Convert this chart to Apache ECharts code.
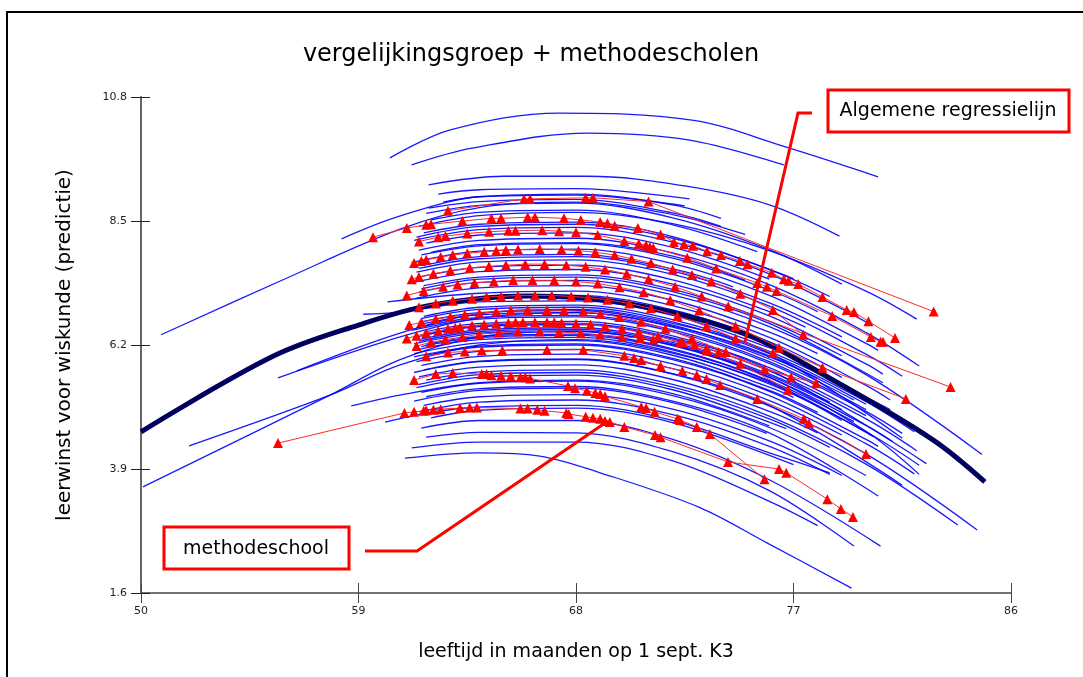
<!DOCTYPE html>
<html>
<head>
<meta charset="utf-8">
<script src="https://cdn.jsdelivr.net/npm/echarts@6/dist/echarts.min.js"></script>
<style>
html,body{margin:0;padding:0;background:#fff;}
#chart{width:1083px;height:677px;}
</style>
</head>
<body>
<div id="chart"></div>
<script>
// ---- axis ticks ----
const xTicks = [50, 59, 68, 77, 86];
const yTicks = [1.6, 3.9, 6.2, 8.5, 10.8];

// ---- blue curves: predicted curves per school (comparison group) ----
const upperCurves = [
  [[60.3,9.67],[62.8,10.19],[67.3,10.50],[72.8,10.37],[76.7,9.87],[80.5,9.32]],
  [[61.2,9.54],[63.7,9.85],[68.5,10.13],[72.7,10.0],[76.6,9.54]],
  [[61.9,9.17],[65,9.33],[68.5,9.33],[72.5,9.15],[76,8.8],[78.9,8.22]],
  [[62.3,9.0],[64,9.08],[68,9.1],[72.7,8.91]],
  [[62.5,8.85],[64,8.95],[68,8.98],[72.5,8.78]]
];
const leftCurves = [
  [[50.83,6.39],[55.88,7.41],[60.72,8.35],[64,8.75],[68,8.85],[72,8.62],[75,8.25]],
  [[58.3,8.17],[60.7,8.59],[64,8.95],[68,9.0],[72,8.8],[74,8.55]],
  [[51.99,4.33],[57.82,5.27],[60.72,5.83],[64,6.2],[68,6.3],[72,6.05],[76,5.5],[79,4.8]],
  [[50.08,3.57],[57.82,5.27],[60.72,5.93],[64,6.35],[68,6.45],[72,6.2],[76,5.6],[80,4.6],[82.2,3.8]],
  [[55.67,5.59],[60.72,6.35],[64,6.7],[68,6.8],[72,6.55],[76,6.0],[80,5.1]],
  [[56.45,5.72],[60.72,6.42],[64,6.78],[68,6.86],[72,6.6],[76,6.05],[81.5,4.47]],
  [[58.7,5.07],[60.72,5.27],[64,5.5],[68,5.55],[72,5.3],[76,4.7]],
  [[60.1,4.77],[62,4.95],[64,5.05],[68,5.08],[72,4.8],[76,4.2],[78.5,3.83]]
];
const bundleCurves = [
  [[61.9,8.74],[64,8.86],[68,8.9],[72,8.65],[74,8.4]],
  [[61.8,8.64],[64,8.79],[68,8.83],[72,8.56],[76,7.97],[79,7.33]],
  [[62,8.52],[64,8.66],[68,8.70],[72,8.43],[75.5,7.93]],
  [[61.5,8.40],[64,8.60],[68,8.66],[72,8.45],[76,7.95],[80,7.2],[82.1,6.68]],
  [[61.7,8.28],[64,8.44],[68,8.48],[72,8.21],[77,7.43]],
  [[61.4,8.20],[64,8.40],[68,8.44],[72,8.18],[76,7.6],[78.5,7.1]],
  [[61.3,8.14],[64,8.34],[68,8.38],[72,8.11],[76,7.52],[80,6.63]],
  [[61.8,8.09],[64,8.24],[68,8.28],[72,8.01],[76,7.42]],
  [[61.5,7.96],[64,8.14],[68,8.18],[72,7.91],[76,7.32],[80,6.43],[82.2,5.81]],
  [[62,7.92],[64,8.06],[68,8.10],[72,7.85],[75,7.4]],
  [[61.6,7.87],[64,8.04],[68,8.08],[72,7.81],[76,7.22],[78,6.82]],
  [[61.2,7.73],[64,7.94],[68,7.98],[72,7.71],[76,7.12],[80,6.23],[80.5,6.10]],
  [[61.8,7.69],[64,7.84],[68,7.88],[72,7.61],[74.5,7.28]],
  [[61.5,7.62],[64,7.80],[68,7.84],[72,7.57],[76,6.98],[79,6.35]],
  [[61.4,7.55],[64,7.74],[68,7.78],[72,7.51],[76,6.92],[80,6.03],[81.5,5.62]],
  [[61.6,7.47],[64,7.64],[68,7.68],[72,7.41],[76,6.82],[77.5,6.53]],
  [[61.3,7.36],[64,7.56],[68,7.60],[72,7.33],[76,6.74],[80,5.85],[80.7,5.66]],
  [[61.7,7.30],[64,7.46],[68,7.50],[72,7.23],[76,6.64],[79,6.00]],
  [[61.6,7.24],[64,7.42],[68,7.46],[72,7.19],[76,6.6],[80.7,5.5]],
  [[61.5,7.18],[64,7.36],[68,7.40],[72,7.13],[76,6.54],[80,5.65],[84.8,4.17]],
  [[61.4,7.07],[64,7.26],[68,7.30],[72,7.03],[76,6.44],[78,6.04]],
  [[60.2,7.0],[64,7.16],[68,7.20],[72,6.93],[76,6.34],[80,5.45],[81,5.18]],
  [[61.3,6.88],[64,7.08],[68,7.12],[72,6.85],[76,6.26],[79,5.6]],
  [[59.2,6.77],[60.7,6.81],[64,7.0],[68,7.02],[72,6.75],[76,6.15],[77,5.95]],
  [[61.7,6.73],[64,6.90],[68,6.94],[72,6.67],[76,6.08],[81,5.0]],
  [[61.6,6.69],[64,6.86],[68,6.90],[72,6.63],[76,6.04],[80,5.15],[82,4.59]],
  [[61.5,6.62],[64,6.80],[68,6.84],[72,6.57],[76,5.98],[78,5.58]],
  [[61.5,6.58],[64,6.76],[68,6.80],[72,6.53],[76,5.94],[79.5,5.18]],
  [[61.4,6.52],[64,6.71],[68,6.75],[72,6.48],[76,5.89],[80,5.0]],
  [[61.2,6.47],[64,6.68],[68,6.72],[72,6.45],[76,5.86],[80,4.97],[81.5,4.56]],
  [[61.7,6.44],[64,6.60],[68,6.64],[72,6.37],[76,5.78],[80,4.89]],
  [[61.8,6.40],[64,6.56],[68,6.60],[72,6.33],[76,5.74],[82.5,4.0]],
  [[61.4,6.35],[64,6.54],[68,6.58],[72,6.31],[76,5.72],[80,4.83],[82.1,4.24]],
  [[61.6,6.31],[64,6.48],[68,6.52],[72,6.25],[76,5.66],[78.5,5.14]],
  [[61.5,6.27],[64,6.45],[68,6.49],[72,6.22],[76,5.63],[79,5.0]],
  [[61.3,6.22],[64,6.42],[68,6.46],[72,6.19],[76,5.60],[80,4.71],[81.1,4.41]],
  [[61.8,6.21],[64,6.36],[68,6.40],[72,6.13],[76,5.54],[79.5,4.78]],
  [[61.6,6.17],[64,6.34],[68,6.38],[72,6.11],[76,5.52],[80.3,4.5]],
  [[61.5,6.12],[64,6.30],[68,6.34],[72,6.07],[76,5.48],[80,4.59],[82.2,3.97]],
  [[61.3,6.04],[64,6.24],[68,6.28],[72,6.01],[76,5.42],[77,5.23]],
  [[61.7,6.00],[64,6.16],[68,6.20],[72,5.93],[76,5.34],[80,4.45],[80.5,4.32]],
  [[61.3,5.98],[64,6.18],[68,6.22],[72,5.95],[76,5.36],[78,4.95]],
  [[61.4,5.89],[64,6.08],[68,6.12],[72,5.85],[76,5.26],[80,4.37],[82,3.81]],
  [[61.6,5.82],[64,5.99],[68,6.03],[72,5.76],[76,5.17],[79,4.53]],
  [[61.7,5.74],[64,5.90],[68,5.94],[72,5.67],[76,5.08],[81.5,3.6]],
  [[61.3,5.69],[64,5.89],[68,5.93],[72,5.66],[76,5.07],[80,4.18],[84.6,2.77]],
  [[61.5,5.61],[64,5.79],[68,5.83],[72,5.56],[76,4.97],[78,4.57]],
  [[61.8,5.55],[64,5.70],[68,5.74],[72,5.47],[76,4.88],[80,3.99],[83.8,2.86]],
  [[61.5,5.47],[64,5.65],[68,5.69],[72,5.42],[76,4.83],[78.5,4.3]],
  [[61.4,5.41],[64,5.60],[68,5.64],[72,5.37],[76.7,4.65]],
  [[61.6,5.32],[64,5.49],[68,5.53],[72,5.26],[76,4.67],[80,3.78]],
  [[61.8,5.24],[64,5.39],[68,5.43],[72,5.16],[76,4.57],[80.5,3.4]],
  [[61.3,5.16],[64,5.36],[68,5.40],[72,5.13],[75.9,4.56]],
  [[61.7,5.08],[64,5.24],[68,5.28],[72,5.01],[76,4.42],[79,3.78]],
  [[61.5,4.96],[64,5.14],[68,5.18],[72,4.91],[76,4.32],[78.5,3.80]],
  [[62,4.85],[64,4.99],[68,5.03],[72,4.76],[77,3.98]]
];
const lowerCurves = [
  [[61.6,4.66],[64,4.80],[68,4.80],[72,4.45],[76,3.70],[80.6,2.47]],
  [[61.8,4.49],[64,4.58],[68,4.57],[72,4.22],[76,3.50],[79.5,2.47]],
  [[61.2,4.29],[64,4.40],[68,4.40],[72,4.05],[76,3.30],[78,2.85]],
  [[60.92,4.10],[64.0,4.20],[66.5,4.14],[69.0,3.83],[73.1,3.19],[75.9,2.53],[79.4,1.69]]
];

// ---- general regression line ----
const regression = [[50,4.59],[55.46,5.99],[59,6.57],[62,6.94],[66,7.11],[70,6.98],[74.9,6.42],[78.63,5.55],[82.77,4.44],[84.92,3.66]];

// ---- red: method schools (observed triangles) ----
const methodSchools = [
  [[62.7,8.69],[65.85,8.91],[66.1,8.91],[68.4,8.93],[68.7,8.93],[71.0,8.86],[82.8,6.82]],
  [[59.6,8.20],[61.0,8.37],[61.8,8.43],[62.0,8.44],[63.3,8.50],[64.5,8.55],[64.9,8.55],[66.0,8.57],[66.3,8.57],[67.5,8.55],[68.2,8.52],[69.0,8.48],[69.3,8.46],[69.6,8.41],[70.56,8.37],[71.5,8.25],[72.05,8.11],[72.47,8.07],[72.84,8.04],[73.42,7.94],[74.0,7.87],[74.78,7.76],[75.1,7.70],[76.1,7.54],[76.6,7.42],[76.8,7.39],[77.2,7.33],[78.2,7.09],[79.2,6.85],[79.5,6.81],[80.1,6.64],[81.2,6.33]],
  [[61.5,8.12],[62.3,8.2],[62.6,8.22],[63.5,8.27],[64.4,8.3],[65.2,8.32],[65.5,8.32],[66.6,8.33],[67.3,8.31],[68.0,8.29],[68.9,8.24],[70.0,8.13],[70.6,8.08],[70.9,8.05],[71.06,8.02],[71.2,8.0],[72.6,7.82],[73.8,7.62],[75.5,7.35],[75.9,7.28],[76.3,7.20],[78.6,6.74],[80.2,6.35],[80.6,6.26],[80.7,6.26]],
  [[61.3,7.72],[61.6,7.76],[61.8,7.78],[62.4,7.83],[62.9,7.87],[63.5,7.9],[64.2,7.93],[64.7,7.95],[65.1,7.96],[65.6,7.97],[66.5,7.98],[67.4,7.97],[68.1,7.95],[68.8,7.92],[69.6,7.87],[70.3,7.8],[71.1,7.72],[72.0,7.6],[72.8,7.5],[73.6,7.38],[74.8,7.15],[76.15,6.85],[77.4,6.39]],
  [[61.2,7.42],[61.5,7.46],[62.1,7.52],[62.8,7.58],[63.6,7.63],[64.4,7.66],[65.1,7.68],[65.9,7.7],[66.7,7.7],[67.6,7.68],[68.4,7.65],[69.2,7.6],[70.1,7.52],[71.0,7.42],[72.1,7.28],[73.2,7.1],[74.3,6.92],[83.5,5.42]],
  [[61.0,7.12],[61.7,7.2],[62.5,7.28],[63.1,7.32],[63.8,7.35],[64.6,7.38],[65.4,7.4],[66.2,7.4],[67.1,7.4],[68.0,7.38],[68.9,7.34],[69.8,7.27],[70.8,7.18],[71.9,7.03],[73.1,6.84],[74.6,6.55],[76.4,6.15],[78.2,5.78],[81.65,5.2]],
  [[61.5,6.9],[62.2,6.97],[62.9,7.02],[63.7,7.06],[64.3,7.09],[64.9,7.1],[65.6,7.12],[66.3,7.12],[67.0,7.12],[67.8,7.1],[68.5,7.08],[69.3,7.04],[70.2,6.97],[71.1,6.88],[72.2,6.74],[73.4,6.55],[74.6,6.32],[76.15,6.05]],
  [[61.1,6.57],[61.6,6.62],[62.2,6.68],[62.8,6.72],[63.4,6.76],[64.0,6.79],[64.7,6.82],[65.3,6.84],[66.0,6.85],[66.8,6.85],[67.5,6.84],[68.3,6.82],[69.0,6.78],[69.8,6.72],[70.7,6.63],[71.7,6.5],[72.8,6.32],[74.2,6.07],[75.8,5.75],[77.93,5.49]],
  [[61.0,6.32],[61.4,6.37],[61.8,6.42],[62.3,6.46],[62.7,6.5],[63.0,6.52],[63.2,6.53],[63.7,6.56],[64.2,6.58],[64.7,6.6],[65.2,6.61],[65.5,6.62],[65.8,6.62],[66.3,6.62],[66.8,6.62],[67.1,6.62],[67.4,6.61],[68.0,6.6],[68.6,6.58],[69.2,6.55],[69.9,6.5],[70.6,6.44],[71.4,6.36],[72.3,6.25],[73.4,6.1],[74.8,5.85],[76.77,5.37]],
  [[61.4,6.18],[62.0,6.25],[62.6,6.3],[63.3,6.35],[64.0,6.4],[64.8,6.43],[65.6,6.45],[66.5,6.45],[67.3,6.44],[68.2,6.42],[69.0,6.39],[69.9,6.35],[70.65,6.33],[71.2,6.3],[72.4,6.25],[72.9,6.2],[73.4,6.14],[73.9,6.07],[76.9,5.6]],
  [[61.8,5.99],[62.7,6.06],[63.4,6.08],[64.1,6.1],[64.95,6.1],[66.8,6.11],[68.3,6.11],[70.0,6.0],[70.4,5.96],[70.7,5.92],[71.5,5.81],[72.4,5.72],[73.0,5.64],[73.4,5.57],[73.96,5.46],[75.5,5.2],[77.43,4.83],[77.64,4.75],[80.0,4.18]],
  [[61.3,5.55],[62.2,5.66],[62.9,5.68],[64.1,5.66],[64.3,5.66],[64.5,5.64],[64.9,5.63],[65.3,5.62],[65.7,5.6],[65.9,5.6],[66.1,5.58],[67.67,5.44],[67.96,5.40],[68.45,5.35],[68.8,5.31],[69.0,5.29],[69.2,5.25],[70.7,5.05],[70.9,5.03],[71.25,4.96],[72.2,4.83],[72.3,4.81],[73.0,4.68],[73.54,4.55],[75.8,3.71]],
  [[55.67,4.38],[60.9,4.94],[61.3,4.96],[61.7,4.98],[61.8,4.99],[62.1,5.0],[62.4,5.01],[63.2,5.03],[63.6,5.04],[63.9,5.04],[65.7,5.02],[66.0,5.02],[66.4,5.0],[66.7,4.98],[67.6,4.94],[67.7,4.92],[68.4,4.87],[68.7,4.85],[69.0,4.83],[69.2,4.79],[69.4,4.77],[70.0,4.68],[71.27,4.53],[71.5,4.49],[74.29,4.03],[76.4,3.90],[76.7,3.83],[78.4,3.34],[78.96,3.16],[79.46,3.01]]
];

const titleText = 'vergelijkingsgroep + methodescholen';
const xName = 'leeftijd in maanden op 1 sept. K3';
const yName = 'leerwinst voor wiskunde (predictie)';
const noteRegression = 'Algemene regressielijn';
const noteSchool = 'methodeschool';

const FONT = 'DejaVu Sans';
const chart = echarts.init(document.getElementById('chart'), null, {renderer: 'canvas'});

const series = [];
[...upperCurves, ...leftCurves, ...bundleCurves, ...lowerCurves].forEach(c => {
  series.push({type: 'line', data: c, smooth: 0.35, showSymbol: false, silent: true, z: 2,
    lineStyle: {color: '#0000ff', width: 1.3, opacity: 0.9}});
});
series.push({type: 'line', data: regression, smooth: 0.35, showSymbol: false, silent: true, z: 3,
  lineStyle: {color: '#00005e', width: 5}});
methodSchools.forEach(s => {
  series.push({type: 'line', data: s, smooth: false, symbol: 'triangle', symbolSize: 10, showSymbol: true, silent: true, z: 4,
    itemStyle: {color: '#ff0000'}, lineStyle: {color: '#ff2a2a', width: 1}});
});

const option = {
  animation: false,
  backgroundColor: '#fff',
  title: {text: titleText, left: 526, top: 38, textAlign: 'center',
    textStyle: {fontFamily: FONT, fontSize: 24, fontWeight: 'normal', color: '#000'}},
  grid: {left: 141, right: 72, top: 97, bottom: 84},
  xAxis: [
    {type: 'value', min: 50, max: 86, interval: 9, position: 'bottom',
      name: xName, nameLocation: 'middle', nameGap: 50,
      nameTextStyle: {fontFamily: FONT, fontSize: 19, color: '#000'},
      axisLine: {lineStyle: {color: '#444', width: 1.5}},
      axisTick: {show: true, length: 10, lineStyle: {color: '#444'}},
      axisLabel: {fontFamily: FONT, fontSize: 11, color: '#222', margin: 13},
      splitLine: {show: false}},
    {type: 'value', min: 50, max: 86, interval: 9, position: 'bottom',
      axisLine: {show: false}, axisTick: {show: true, inside: true, length: 10, lineStyle: {color: '#444'}},
      axisLabel: {show: false}, splitLine: {show: false}}
  ],
  yAxis: [
    {type: 'value', min: 1.6, max: 10.8, interval: 2.3, position: 'left',
      name: yName, nameLocation: 'middle', nameGap: 66, nameRotate: 90,
      nameTextStyle: {fontFamily: FONT, fontSize: 20, color: '#000'},
      axisLine: {lineStyle: {color: '#666', width: 2}},
      axisTick: {show: true, length: 10, lineStyle: {color: '#222'}},
      axisLabel: {fontFamily: FONT, fontSize: 11, color: '#222', margin: 14, formatter: v => v.toFixed(1)},
      splitLine: {show: false}},
    {type: 'value', min: 1.6, max: 10.8, interval: 2.3, position: 'left',
      axisLine: {show: false}, axisTick: {show: true, inside: true, length: 9, lineStyle: {color: '#222'}},
      axisLabel: {show: false}, splitLine: {show: false}}
  ],
  series: series,
  graphic: [
    {type: 'rect', shape: {x: 7, y: 12, width: 1100, height: 700}, style: {fill: null, stroke: '#000', lineWidth: 2}, silent: true, z: 0},
    {type: 'polyline', shape: {points: [[812,113],[798,113],[745,342]]}, style: {stroke: '#ff0000', lineWidth: 3, fill: null}, z: 100},
    {type: 'polyline', shape: {points: [[365,551],[417,551],[608,421]]}, style: {stroke: '#ff0000', lineWidth: 3, fill: null}, z: 100},
    {type: 'rect', shape: {x: 828, y: 90, width: 241, height: 42}, style: {fill: '#fff', stroke: '#ff0000', lineWidth: 3}, z: 100},
    {type: 'text', x: 948, y: 111, style: {text: noteRegression, font: '19px "DejaVu Sans"', fill: '#000', align: 'center', verticalAlign: 'middle'}, z: 101},
    {type: 'rect', shape: {x: 164, y: 527, width: 185, height: 42}, style: {fill: '#fff', stroke: '#ff0000', lineWidth: 3}, z: 100},
    {type: 'text', x: 256, y: 549, style: {text: noteSchool, font: '19px "DejaVu Sans"', fill: '#000', align: 'center', verticalAlign: 'middle'}, z: 101}
  ]
};
chart.setOption(option);
</script>
</body>
</html>
